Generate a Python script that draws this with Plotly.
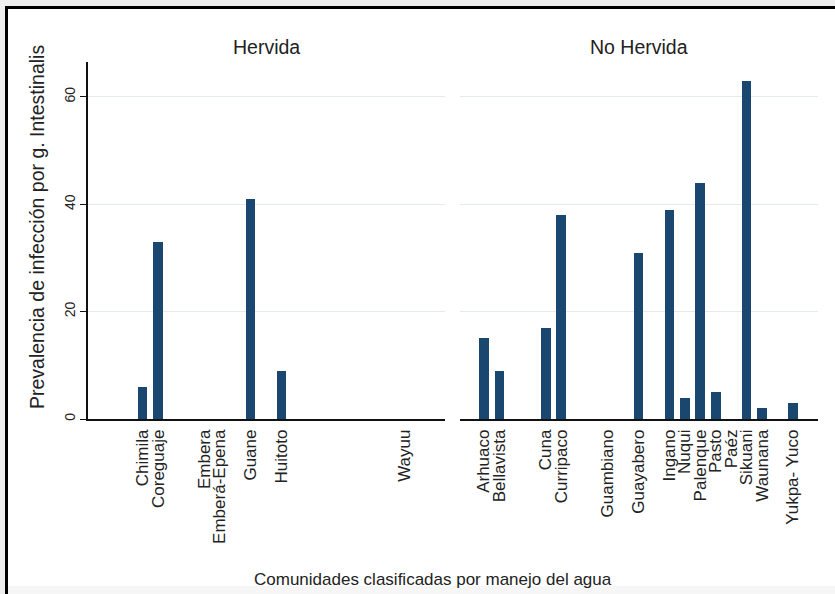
import plotly.graph_objects as go

# ---- data ----
communities = ["Arhuaco", "Bellavista", "Chimila", "Coreguaje", "Cuna", "Curripaco",
               "Embera", "Emberá-Epena", "Guambiano", "Guane", "Guayabero", "Huitoto",
               "Ingano", "Nuqui", "Palenque", "Pasto", "Paéz", "Sikuani", "Waunana",
               "Wayuu", "Yukpa- Yuco"]
group = ["No Hervida", "No Hervida", "Hervida", "Hervida", "No Hervida", "No Hervida",
         "Hervida", "Hervida", "No Hervida", "Hervida", "No Hervida", "Hervida",
         "No Hervida", "No Hervida", "No Hervida", "No Hervida", "No Hervida", "No Hervida",
         "No Hervida", "Hervida", "No Hervida"]
prevalence = [15, 9, 6, 33, 17, 38,
              0, 0, 0, 41, 31, 9,
              39, 4, 44, 5, 0, 63, 2,
              0, 3]
panels = ["Hervida", "No Hervida"]
y_ticks = [0, 20, 40, 60]

W, H = 835, 594
FONT = "Liberation Sans, Arial, sans-serif"
BAR = "#1a476f"
TXT = "#222222"

def px_x(v):
    return v / W

def px_y(v):
    return 1 - v / H

fig = go.Figure()
x_domains = [[px_x(88), px_x(445)], [px_x(460), px_x(818)]]
y_domain = [px_y(419), px_y(62)]

for i, p in enumerate(panels):
    xs = [k + 1 for k, g in enumerate(group) if g == p]
    ys = [prevalence[k] for k, g in enumerate(group) if g == p]
    labels = [communities[k] for k, g in enumerate(group) if g == p]
    suffix = "" if i == 0 else str(i + 1)
    fig.add_trace(go.Bar(x=xs, y=ys, width=0.62, marker=dict(color=BAR, line=dict(width=0)),
                         xaxis="x" + suffix, yaxis="y" + suffix, showlegend=False))
    fig.layout["xaxis" + suffix] = dict(
        domain=x_domains[i], range=[-0.55, 22.62], tickmode="array",
        tickvals=xs, ticktext=labels, tickangle=-90, showgrid=False, zeroline=False,
        showline=True, linecolor="#111111", linewidth=1.5, ticks="",
        tickfont=dict(family=FONT, size=17, color=TXT), automargin=False,
        ticklabelstandoff=2, anchor="y" + suffix, fixedrange=True)
    fig.layout["yaxis" + suffix] = dict(
        domain=y_domain, range=[0, 66.5], tickmode="array", tickvals=y_ticks,
        showticklabels=(i == 0), tickangle=-90,
        ticks="outside" if i == 0 else "", ticklen=6, tickcolor="#111111", tickwidth=1,
        showgrid=True, gridcolor="#e4eaec", gridwidth=1, zeroline=False,
        showline=(i == 0), linecolor="#111111", linewidth=1.5,
        tickfont=dict(family=FONT, size=14, color=TXT), automargin=False,
        anchor="x" + suffix, fixedrange=True)

annotations = [
    dict(text="Hervida", x=px_x(266.5), y=px_y(47)),
    dict(text="No Hervida", x=px_x(639), y=px_y(47)),
    dict(text="Comunidades clasificadas por manejo del agua", x=px_x(433), y=px_y(579), size=17),
    dict(text="Prevalencia de infección por g. Intestinalis", x=px_x(37), y=px_y(227),
         size=19.5, textangle=-90),
]
fig.layout.annotations = [
    dict(text=a["text"], x=a["x"], y=a["y"], xref="paper", yref="paper",
         xanchor="center", yanchor="middle", showarrow=False,
         textangle=a.get("textangle", 0),
         font=dict(family=FONT, size=a.get("size", 19.5), color=TXT))
    for a in annotations
]

shapes = [
    # gray surround outside the frame
    dict(type="rect", x0=0, x1=1, y0=px_y(6), y1=1, fillcolor="#efefef", line=dict(width=0)),
    dict(type="rect", x0=0, x1=px_x(5), y0=0, y1=1, fillcolor="#efefef", line=dict(width=0)),
    dict(type="rect", x0=px_x(5), x1=1, y0=0, y1=px_y(586), fillcolor="#f6f6f6", line=dict(width=0)),
    # black frame lines (top and left)
    dict(type="line", x0=px_x(5), x1=1, y0=px_y(7.5), y1=px_y(7.5), line=dict(color="black", width=3)),
    dict(type="line", x0=px_x(6.5), x1=px_x(6.5), y0=0, y1=px_y(6), line=dict(color="black", width=3)),
]
for s in shapes:
    s.update(xref="paper", yref="paper", layer="above")
fig.layout.shapes = shapes

fig.update_layout(
    width=W, height=H, margin=dict(l=0, r=0, t=0, b=0),
    paper_bgcolor="white", plot_bgcolor="white", bargap=0,
    font=dict(family=FONT, color=TXT),
)

fig.write_html("out.html")
